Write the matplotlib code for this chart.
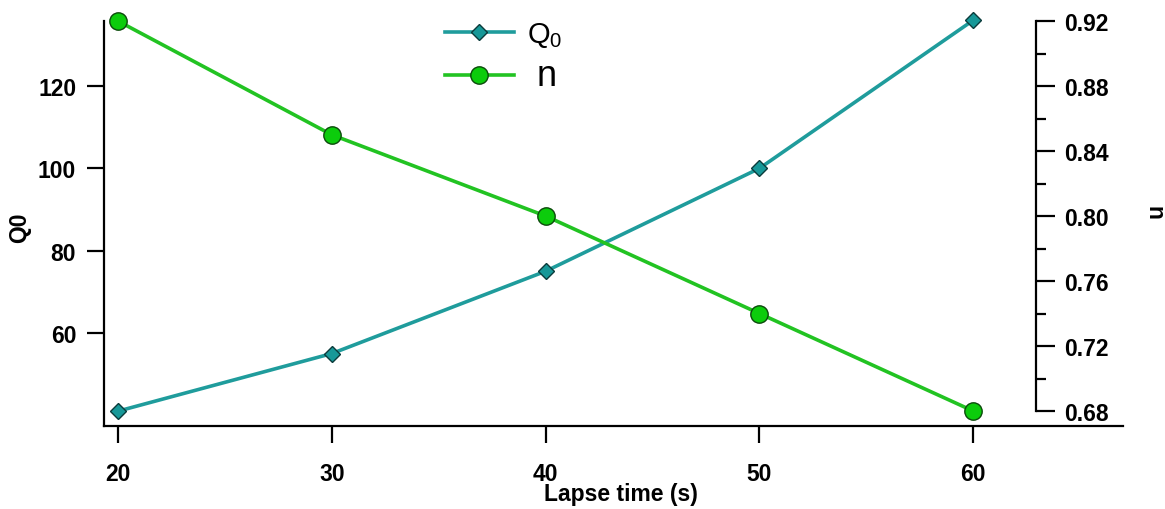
import matplotlib
matplotlib.use("Agg")
import matplotlib.pyplot as plt
from matplotlib.ticker import FixedLocator, FormatStrFormatter

plt.rcParams['font.family'] = ['Liberation Sans', 'DejaVu Sans']
plt.rcParams['mathtext.fontset'] = 'custom'
plt.rcParams['mathtext.rm'] = 'Liberation Sans'

# Data
lapse_time = [20, 30, 40, 50, 60]
q0_values = [41, 55, 75, 100, 136]
n_values = [0.92, 0.85, 0.80, 0.74, 0.68]

x_ticks = [20, 30, 40, 50, 60]
q0_ticks = [60, 80, 100, 120]
n_ticks = [0.68, 0.72, 0.76, 0.80, 0.84, 0.88, 0.92]
n_minor_ticks = [0.70, 0.74, 0.78, 0.82, 0.86, 0.90]

teal_line = '#1f9c9c'
teal_face = '#179898'
green_line = '#22c322'
green_face = '#0ccc0c'

W, H = 1165, 510
fig = plt.figure(figsize=(W / 100, H / 100), dpi=100)
ax_left, ax_right, ax_bottom, ax_top = 104, 1123, 427, 22
ax = fig.add_axes([ax_left / W, 1 - ax_bottom / H,
                   (ax_right - ax_left) / W, (ax_bottom - ax_top) / H])
ax2 = ax.twinx()

line_q, = ax.plot(lapse_time, q0_values, color=teal_line, lw=2.6,
                  marker='D', ms=8.3, mfc=teal_face, mec='#0b3b3b', mew=1.0,
                  clip_on=False, zorder=3, label='Q$_\\mathregular{0}$')
line_n, = ax2.plot(lapse_time, n_values, color=green_line, lw=2.6,
                   marker='o', ms=12.5, mfc=green_face, mec='#0b4a0b', mew=1.0,
                   clip_on=False, zorder=3, label='n')

ax.set_xlim(19.35, 67.0)
ax.set_ylim(37.4, 135.8)
ax2.set_ylim(0.6708, 0.92)

# Bottom axis
ax.xaxis.set_major_locator(FixedLocator(x_ticks))
ax.tick_params(axis='x', direction='out', length=12.5, width=1.6, pad=13.5,
               labelsize=16.5)
for lbl in ax.get_xticklabels():
    lbl.set_fontweight('bold')

# Left axis
ax.yaxis.set_major_locator(FixedLocator(q0_ticks))
ax.tick_params(axis='y', direction='out', length=12.5, width=1.6, pad=7.5,
               labelsize=16.5)
for lbl in ax.get_yticklabels():
    lbl.set_fontweight('bold')

for side in ['top', 'right']:
    ax.spines[side].set_visible(False)
for side in ['left', 'bottom']:
    ax.spines[side].set_linewidth(1.6)

# Right axis, offset inside the plot and bounded to the data range
for side in ['top', 'left', 'bottom']:
    ax2.spines[side].set_visible(False)
ax2.spines['right'].set_position(('axes', (1036 - ax_left) / (ax_right - ax_left)))
ax2.spines['right'].set_bounds(0.68, 0.92)
ax2.spines['right'].set_linewidth(1.6)
ax2.yaxis.set_major_locator(FixedLocator(n_ticks))
ax2.yaxis.set_minor_locator(FixedLocator(n_minor_ticks))
ax2.yaxis.set_major_formatter(FormatStrFormatter('%.2f'))
ax2.tick_params(axis='y', which='major', direction='out', length=13.5,
                width=1.6, pad=7, labelsize=16.5)
ax2.tick_params(axis='y', which='minor', direction='out', length=7, width=1.6)
for lbl in ax2.get_yticklabels():
    lbl.set_fontweight('bold')

# Axis titles
ax.set_xlabel('Lapse time (s)', fontsize=16.5, fontweight='bold',
              va='center', ha='center')
ax.xaxis.set_label_coords((621 - ax_left) / (ax_right - ax_left),
                          -(495 - ax_bottom) / (ax_bottom - ax_top))
ax.set_ylabel('Q0', fontsize=16.5, fontweight='bold', va='center', ha='center')
ax.yaxis.set_label_coords((20 - ax_left) / (ax_right - ax_left),
                          1 - (228 - ax_top) / (ax_bottom - ax_top))
ax2.set_ylabel('n', fontsize=16.5, fontweight='bold', rotation=-90,
               va='center', ha='center')
ax2.yaxis.set_label_coords((1154 - ax_left) / (ax_right - ax_left),
                           1 - (213 - ax_top) / (ax_bottom - ax_top))

# Legend
leg = ax.legend(handles=[line_q, line_n], loc='upper left',
                bbox_to_anchor=((445 - ax_left) / (ax_right - ax_left),
                                1 - (21 - ax_top) / (ax_bottom - ax_top)),
                frameon=False, fontsize=21, handlelength=2.35,
                handletextpad=0.45, labelspacing=0.3, borderaxespad=0,
                borderpad=0)
leg.get_texts()[1].set_text(' n')
leg.get_texts()[1].set_fontsize(26)

fig.savefig('out.png', dpi=100, facecolor='white')
